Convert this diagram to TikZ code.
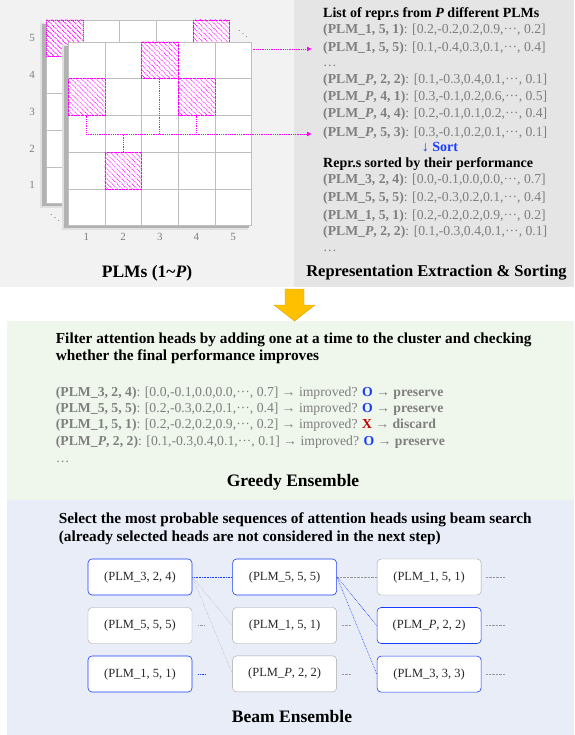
\documentclass[tikz,border=0pt]{standalone}
\usepackage{fontspec}
\setmainfont{Liberation Serif}
\usetikzlibrary{arrows.meta,positioning,patterns.meta}
\definecolor{PanelL}{HTML}{F2F2F2}
\definecolor{PanelR}{HTML}{E5E5E5}
\definecolor{PanelG}{HTML}{EFF6EC}
\definecolor{PanelB}{HTML}{E8EDF7}
\definecolor{Ink}{HTML}{7F7F7F}
\definecolor{Mag}{HTML}{FF00FF}
\definecolor{Beam}{HTML}{1A3CFF}
\definecolor{Gold}{HTML}{FFC000}
\definecolor{GoldEdge}{HTML}{D9A20B}
\definecolor{GridLine}{HTML}{BFBFBF}
\definecolor{NoRed}{HTML}{C00000}
\newcommand{\plm}[1]{\textbf{(PLM\_#1)}}
\newcommand{\mdots}{\textperiodcentered\textperiodcentered\textperiodcentered}

\begin{document}
\begin{tikzpicture}[x=1pt,y=1pt,
  node distance=12pt and 40pt,
  entry/.style={anchor=west,inner sep=0pt,text=Ink,text height=8.5pt,text depth=2.5pt,
    font=\fontsize{13.7}{15}\selectfont},
  head/.style={anchor=west,inner sep=0pt,align=left,font=\fontsize{14}{17}\selectfont\bfseries},
  bighead/.style={head,font=\fontsize{15.3}{17.5}\selectfont\bfseries},
  caption/.style={inner sep=0pt,font=\fontsize{17.5}{19}\selectfont\bfseries},
  tick/.style={inner sep=0pt,text=Ink,font=\fontsize{11}{12}\selectfont},
  hcell/.style={draw=Mag,densely dotted,pattern={Lines[angle=-45,distance=3.5pt,line width=1pt]},
    pattern color=Mag,minimum size=36.7pt,inner sep=0pt},
  plink/.style={draw=Mag,densely dotted,thick},
  tip/.style={-{Latex[length=5pt,width=5pt]},shorten >=11pt},
  cand/.style={draw=Ink!70,rounded corners=4pt,fill=white,minimum width=104pt,
    minimum height=36pt,inner sep=2pt,text=black!85,font=\fontsize{12.5}{14}\selectfont},
  pick/.style={cand,draw=Beam,semithick},
  glink/.style={draw=Ink!80,densely dotted},
  blink/.style={draw=Beam,densely dotted,semithick}]
\useasboundingbox (0,0) rectangle (574,-735);

% panels
\fill[PanelL] (0,0) rectangle (294,-287);
\fill[PanelR] (294,0) rectangle (574,-287);
\fill[PanelG] (7,-321) rectangle (574,-500);
\fill[PanelB] (7,-500) rectangle (574,-735);
\filldraw[fill=Gold,draw=GoldEdge] (285,-289) -- (304,-289) -- (304,-305) -- (315,-305)
  -- (294.5,-321) -- (274,-305) -- (285,-305) -- cycle;

% back grid (PLM_1)
\begin{scope}[shift={(46,-20)}]
  \fill[black!12] (-6,-3) rectangle (180,-188);
  \fill[black!30] (-4,-4) rectangle (181,-186);
  \filldraw[fill=white,draw=GridLine] (0,0) rectangle (183.5,-183.5);
  \foreach \i in {1,...,4}
    \draw[GridLine] (\i*36.7,0) -- (\i*36.7,-183.5) (0,-\i*36.7) -- (183.5,-\i*36.7);
  \node[hcell] (b151) at (18.35,-18.35) {};
  \node[hcell] (b155) at (165.15,-18.35) {};
\end{scope}

% right panel, list
\node[head] (listhd) at (323,-14) {List of repr.s from \textit{P} different PLMs};
\node[entry] (r1) at (323,-31) {\plm{1, 5, 1}: [0.2,-0.2,0.2,0.9,\mdots, 0.2]};
\node[entry] (r2) at (323,-49) {\plm{1, 5, 5}: [0.1,-0.4,0.3,0.1,\mdots, 0.4]};
\node[entry] (r3) at (323,-64) {\dots};
\node[entry] (r4) at (323,-81) {\plm{\textit{P}, 2, 2}: [0.1,-0.3,0.4,0.1,\mdots, 0.1]};
\node[entry] (r5) at (323,-98) {\plm{\textit{P}, 4, 1}: [0.3,-0.1,0.2,0.6,\mdots, 0.5]};
\node[entry] (r6) at (323,-115) {\plm{\textit{P}, 4, 4}: [0.2,-0.1,0.1,0.2,\mdots, 0.4]};
\node[entry] (r7) at (323,-134) {\plm{\textit{P}, 5, 3}: [0.3,-0.1,0.2,0.1,\mdots, 0.1]};
\node[inner sep=0pt,text=Beam,font=\fontsize{14}{15}\selectfont\bfseries] (sort) at (440,-147) {↓ Sort};
\node[head] (sorthd) at (323,-164) {Repr.s sorted by their performance};
\node[entry] (q1) at (323,-181) {\plm{3, 2, 4}: [0.0,-0.1,0.0,0.0,\mdots, 0.7]};
\node[entry] (q2) at (323,-199) {\plm{5, 5, 5}: [0.2,-0.3,0.2,0.1,\mdots, 0.4]};
\node[entry] (q3) at (323,-216) {\plm{1, 5, 1}: [0.2,-0.2,0.2,0.9,\mdots, 0.2]};
\node[entry] (q4) at (323,-233) {\plm{\textit{P}, 2, 2}: [0.1,-0.3,0.4,0.1,\mdots, 0.1]};
\node[entry] (q5) at (323,-248) {\dots};
\node[caption,font=\fontsize{16.5}{19}\selectfont\bfseries] (extract) at (436.5,-273) {Representation Extraction \& Sorting};

\draw[plink,tip] (b155.center |- r2.west) -- (r2.west);

% front grid (PLM_P)
\begin{scope}[shift={(68,-42)}]
  \fill[black!12] (-6,-3) rectangle (180,-188);
  \fill[black!30] (-4,-4) rectangle (181,-186);
  \filldraw[fill=white,draw=GridLine] (0,0) rectangle (183.5,-183.5);
  \foreach \i in {1,...,4}
    \draw[GridLine] (\i*36.7,0) -- (\i*36.7,-183.5) (0,-\i*36.7) -- (183.5,-\i*36.7);
  \node[hcell] (fP53) at (91.75,-18.35) {};
  \node[hcell] (fP41) at (18.35,-55.05) {};
  \node[hcell] (fP44) at (128.45,-55.05) {};
  \node[hcell] (fP22) at (55.05,-128.45) {};
\end{scope}

\draw[plink,tip] (fP41.south) |- (r7.west);
\draw[plink] (fP53.south) -- (fP53.south |- r7.west);
\draw[plink] (fP44.south) -- (fP44.south |- r7.west);
\draw[plink] (fP22.north) -- (fP22.north |- r7.west);

\foreach \n in {1,...,5} {
  \node[tick] (ylab\n) at (32,{-20-(5.5-\n)*36.7}) {\n};
  \node[tick] (xlab\n) at ({68+(\n-0.5)*36.7},-237) {\n};
}
\node[inner sep=0pt,text=Ink] (dotsA) at (243,-31) {$\ddots$};
\node[inner sep=0pt,text=Ink] (dotsB) at (55,-215) {$\ddots$};
\node[caption] (plms) at (147,-273) {PLMs (1\textasciitilde\textit{P})};

% greedy ensemble
\node[bighead] (greedyhd) at (55.7,-348.5) {Filter attention heads by adding one at a time to the cluster and checking\\
  whether the final performance improves};
\node[entry] (g1) at (55.7,-393) {\plm{3, 2, 4}: [0.0,-0.1,0.0,0.0,\mdots, 0.7] → improved? \textcolor{Beam}{\textbf{O}} → \textbf{preserve}};
\node[entry] (g2) at (55.7,-409) {\plm{5, 5, 5}: [0.2,-0.3,0.2,0.1,\mdots, 0.4] → improved? \textcolor{Beam}{\textbf{O}} → \textbf{preserve}};
\node[entry] (g3) at (55.7,-425) {\plm{1, 5, 1}: [0.2,-0.2,0.2,0.9,\mdots, 0.2] → improved? \textcolor{NoRed}{\textbf{X}} → \textbf{discard}};
\node[entry] (g4) at (55.7,-442) {\plm{\textit{P}, 2, 2}: [0.1,-0.3,0.4,0.1,\mdots, 0.1] → improved? \textcolor{Beam}{\textbf{O}} → \textbf{preserve}};
\node[entry] (g5) at (55.7,-459) {\dots};
\node[caption] (greedy) at (293,-482) {Greedy Ensemble};

% beam ensemble
\node[bighead] (beamhd) at (58.6,-529) {Select the most probable sequences of attention heads using beam search\\
  (already selected heads are not considered in the next step)};
\node[pick] (s1a) at (140,-577) {(PLM\_3, 2, 4)};
\node[cand,below=of s1a] (s1b) {(PLM\_5, 5, 5)};
\node[pick,below=of s1b] (s1c) {(PLM\_1, 5, 1)};
\node[pick,right=of s1a] (s2a) {(PLM\_5, 5, 5)};
\node[cand,below=of s2a] (s2b) {(PLM\_1, 5, 1)};
\node[cand,below=of s2b] (s2c) {(PLM\_\textit{P}, 2, 2)};
\node[cand,right=of s2a] (s3a) {(PLM\_1, 5, 1)};
\node[pick,below=of s3a] (s3b) {(PLM\_\textit{P}, 2, 2)};
\node[pick,below=of s3b] (s3c) {(PLM\_3, 3, 3)};
\node[caption] (beam) at (292,-717) {Beam Ensemble};

\draw[blink] (s1a) -- (s2a);
\draw[glink] (s1a.east) -- (s2b.west);
\draw[glink] (s1a.east) -- (s2c.west);
\draw[glink] (s2a) -- (s3a);
\draw[blink] (s2a.east) -- (s3b.west);
\draw[blink] (s2a.east) -- (s3c.west);

\coordinate[right=13pt of s1b.east] (t1b);
\coordinate[right=13pt of s1c.east] (t1c);
\coordinate[right=14pt of s2b.east] (t2b);
\coordinate[right=14pt of s2c.east] (t2c);
\coordinate[right=23pt of s3a.east] (t3a);
\coordinate[right=23pt of s3b.east] (t3b);
\coordinate[right=23pt of s3c.east] (t3c);
\draw[glink,shorten <=6pt] (s1b.east) -- (t1b);
\draw[blink,shorten <=6pt] (s1c.east) -- (t1c);
\draw[glink,shorten <=5pt] (s2b.east) -- (t2b);
\draw[glink,shorten <=5pt] (s2c.east) -- (t2c);
\draw[glink,shorten <=4.5pt] (s3a.east) -- (t3a);
\draw[glink,shorten <=4.5pt] (s3b.east) -- (t3b);
\draw[glink,shorten <=4.5pt] (s3c.east) -- (t3c);
\end{tikzpicture}
\end{document}
